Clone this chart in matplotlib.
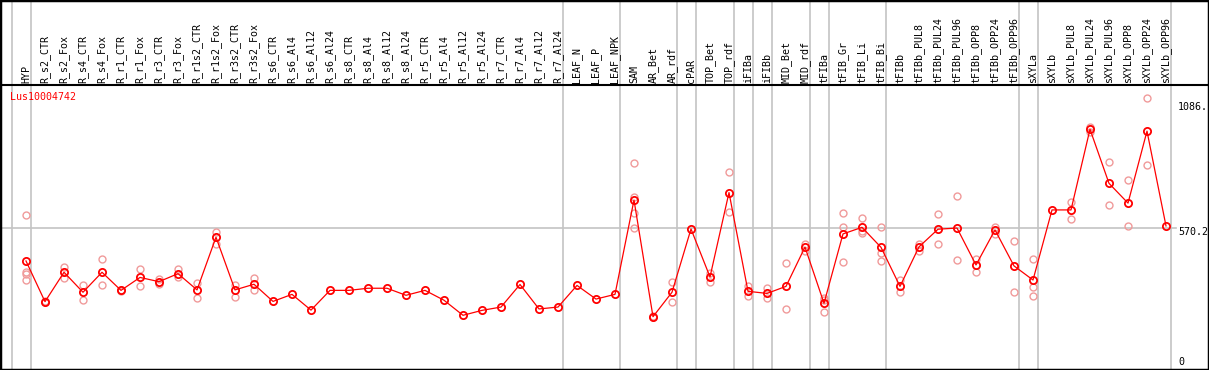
import matplotlib
matplotlib.use("Agg")
import matplotlib.pyplot as plt
from matplotlib.patches import Rectangle

gene = "Lus10004742"

categories = [
    "HYP", "R_s2_CTR", "R_s2_Fox", "R_s4_CTR", "R_s4_Fox", "R_r1_CTR", "R_r1_Fox",
    "R_r3_CTR", "R_r3_Fox", "R_r1s2_CTR", "R_r1s2_Fox", "R_r3s2_CTR", "R_r3s2_Fox",
    "R_s6_CTR", "R_s6_Al4", "R_s6_Al12", "R_s6_Al24", "R_s8_CTR", "R_s8_Al4",
    "R_s8_Al12", "R_s8_Al24", "R_r5_CTR", "R_r5_Al4", "R_r5_Al12", "R_r5_Al24",
    "R_r7_CTR", "R_r7_Al4", "R_r7_Al12", "R_r7_Al24", "LEAF_N", "LEAF_P", "LEAF_NPK",
    "SAM", "AR_Bet", "AR_rdf", "cPAR", "TOP_Bet", "TOP_rdf", "iFIBa", "iFIBb",
    "MID_Bet", "MID_rdf", "tFIBa", "tFIB_Gr", "tFIB_Li", "tFIB_Bi", "tFIBb",
    "tFIBb_PUL8", "tFIBb_PUL24", "tFIBb_PUL96", "tFIBb_OPP8", "tFIBb_OPP24",
    "tFIBb_OPP96", "sXYLa", "sXYLb", "sXYLb_PUL8", "sXYLb_PUL24", "sXYLb_PUL96",
    "sXYLb_OPP8", "sXYLb_OPP24", "sXYLb_OPP96",
]

means = [
    430, 257, 382, 297, 382, 305, 360, 342, 376, 307, 531, 307, 331,
    258, 288, 221, 305, 305, 314, 314, 284, 305, 263, 199, 220,
    234, 330, 226, 234, 326, 268, 288,
    689, 193, 297, 566, 362, 721, 301, 292, 322, 489, 250, 545, 573, 488,
    322, 490, 565, 570, 413, 562, 409, 349, 647, 647, 990, 760, 676, 982, 579,
]

replicates = [
    [625, 385, 375, 349], [255, 259], [406, 359], [328, 263], [437, 326],
    [303, 307], [394, 322], [352, 332], [394, 362], [335, 274], [554, 503],
    [328, 278], [356, 308],
    [], [], [], [], [], [], [], [], [], [], [], [], [], [], [], [], [], [], [],
    [846, 703, 633, 571], [191, 195], [339, 257], [], [380, 342], [808, 637],
    [325, 282], [315, 271], [420, 224], [501, 474], [264, 214, 272],
    [633, 573, 424], [611, 550, 558], [573, 465, 430], [347, 299],
    [501, 474], [630, 502], [706, 433], [438, 384], [574, 545], [513, 298],
    [437, 321, 280], [], [681, 607], [1001, 980], [851, 667], [774, 579],
    [1121, 836], [],
]

group_ends = [-1, 0, 28, 31, 34, 35, 37, 38, 39, 41, 42, 45, 52, 53, 60]
ref_value = 570.2
axis_labels = [("1086.", 1086), ("570.2", 553), ("0", 0)]

assert len(categories) == len(means) == len(replicates)

W, H = 1209, 370
fig = plt.figure(figsize=(W / 100, H / 100), dpi=100)
ax = fig.add_axes([0, 0, 1, 1])

# pixel mapping: x = 26 + 19*i ; y = 362.1 - 0.2352*v
def px2x(p):
    return (p - 26) / 19.0

def py2v(p):
    return (362.1 - p) / 0.2352

ax.set_xlim(px2x(0), px2x(W))
ax.set_ylim(py2v(H), py2v(0))
ax.set_xticks([])
ax.set_yticks([])
for s in ax.spines.values():
    s.set_visible(False)

grey = "#c4c4c4"
for g in group_ends:
    ax.axvline(g + 0.25, color=grey, lw=1.2, zorder=1)
ax.plot([px2x(1), px2x(1176)], [ref_value, ref_value], color=grey, lw=1.2, zorder=1)

# separator below labels
ax.axhline(py2v(85), color="black", lw=1.5, zorder=3)

mono = "DejaVu Sans Mono"
for i, c in enumerate(categories):
    ax.text(i, py2v(83), c, rotation=90, ha="center", va="bottom",
            fontsize=7.2, family=mono, color="black", zorder=4)

ax.text(px2x(10), py2v(97), gene, ha="left", va="center", fontsize=7.2,
        family=mono, color="red", zorder=4)

for lab, v in axis_labels:
    ax.text(px2x(1178), v, lab, ha="left", va="center", fontsize=7.2,
            family=mono, color="black", zorder=4)

# replicates
for i, reps in enumerate(replicates):
    if reps:
        ax.plot([i] * len(reps), reps, linestyle="none", marker="o", ms=5,
                mfc="none", mec="#f09a9a", mew=1.0, zorder=5)

xs = list(range(len(means)))
ax.plot(xs, means, color="red", lw=0.9, marker="o", ms=5.2, mfc="none",
        mec="red", mew=1.3, zorder=6)

fig.patches.append(Rectangle((0, 0), 1, 1, transform=fig.transFigure,
                             fill=False, edgecolor="black", lw=2.5, zorder=10))

fig.savefig("out.png", dpi=100)
